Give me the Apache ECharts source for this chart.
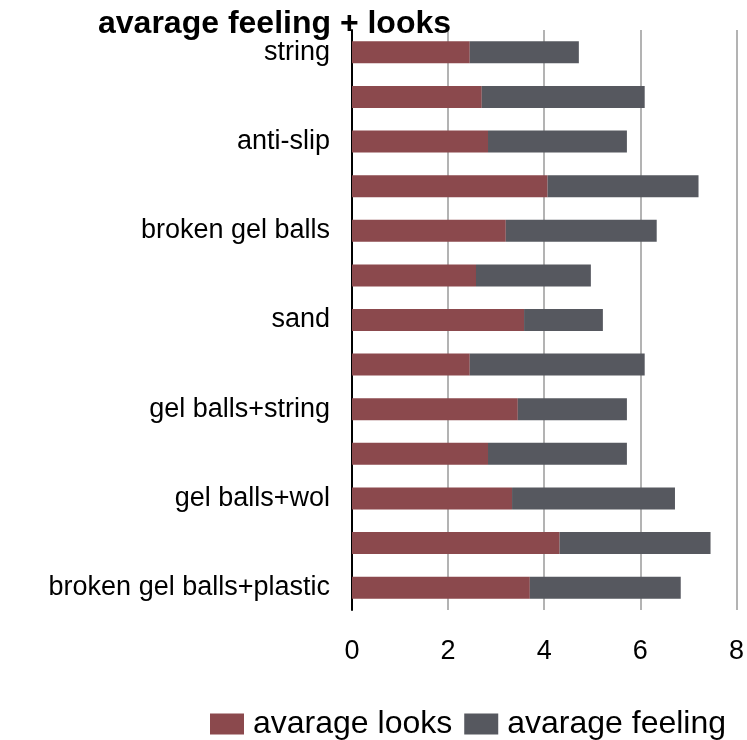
<!DOCTYPE html>
<html>
<head>
<meta charset="utf-8">
<script src="https://cdn.jsdelivr.net/npm/echarts@6/dist/echarts.min.js"></script>
<style>
  html, body { margin: 0; padding: 0; background: #fff; }
  #chart { width: 747px; height: 740px; }
</style>
</head>
<body>
<div id="chart"></div>
<script>
var categories = ['string', '', 'anti-slip', '', 'broken gel balls', '', 'sand', '',
    'gel balls+string', '', 'gel balls+wol', '', 'broken gel balls+plastic'];
var looks   = [2.45, 2.70, 2.83, 4.07, 3.20, 2.58, 3.58, 2.45, 3.45, 2.83, 3.33, 4.32, 3.70];
var feeling = [2.27, 3.39, 2.89, 3.14, 3.14, 2.39, 1.64, 3.64, 2.27, 2.89, 3.39, 3.14, 3.14];
var xTicks = [0, 2, 4, 6, 8];

var font = 'Liberation Sans, Arial, sans-serif';
var myChart = echarts.init(document.getElementById('chart'));

var option = {
    animation: false,
    textStyle: { fontFamily: font },
    title: {
        text: 'avarage feeling + looks',
        left: 93,
        top: 3,
        textStyle: { fontSize: 32, fontWeight: 'bold', color: '#000', fontFamily: font }
    },
    legend: {
        left: 205,
        top: 703,
        itemWidth: 34,
        itemHeight: 21,
        itemGap: 12,
        icon: 'rect',
        textStyle: { fontSize: 32, color: '#000', fontFamily: font, padding: [0, 0, 0, 4] },
        data: ['avarage looks', 'avarage feeling']
    },
    grid: { left: 352, right: 10, top: 30, bottom: 130 },
    xAxis: {
        type: 'value',
        min: xTicks[0],
        max: xTicks[xTicks.length - 1],
        interval: 2,
        axisLine: { show: false },
        axisTick: { show: false },
        axisLabel: { fontSize: 27, color: '#000', margin: 28, fontFamily: font },
        splitLine: { lineStyle: { color: '#b3b3b3', width: 2 } }
    },
    yAxis: {
        type: 'category',
        inverse: true,
        data: categories,
        axisLine: { lineStyle: { color: '#000', width: 2 } },
        axisTick: { show: false },
        axisLabel: { interval: 0, fontSize: 27, color: '#000', margin: 22, fontFamily: font }
    },
    series: [
        {
            name: 'avarage looks',
            type: 'bar',
            stack: 'total',
            barWidth: 22,
            itemStyle: { color: '#8b494d' },
            data: looks
        },
        {
            name: 'avarage feeling',
            type: 'bar',
            stack: 'total',
            barWidth: 22,
            itemStyle: { color: '#56585f' },
            data: feeling
        }
    ]
};
myChart.setOption(option);
</script>
</body>
</html>
